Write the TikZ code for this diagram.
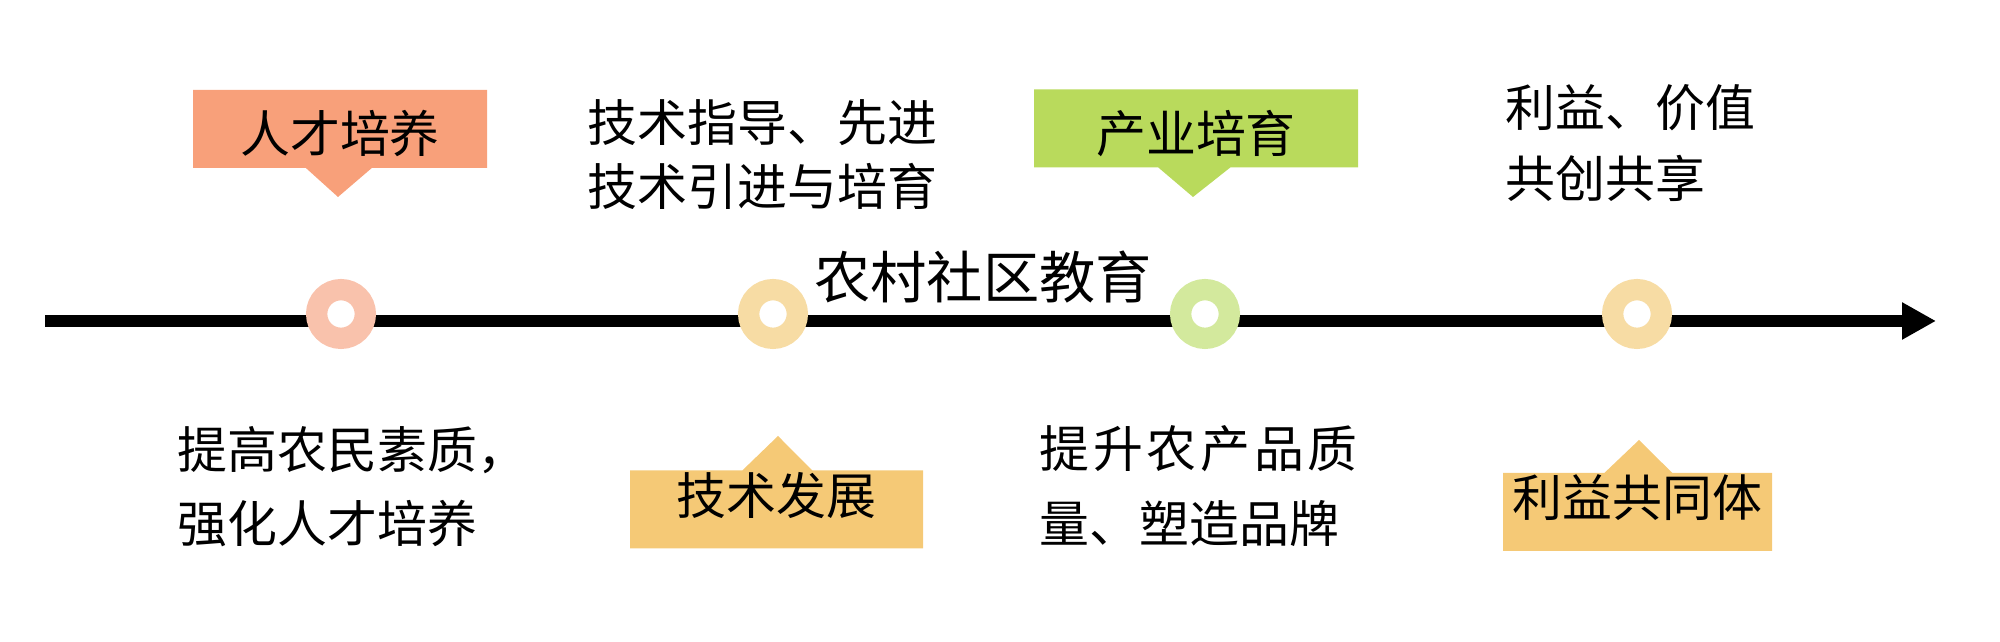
\documentclass[tikz,border=0pt]{standalone}
\usepackage{fontspec}
\setmainfont{Noto Sans CJK SC}
\usepackage{xcolor}
\usetikzlibrary{arrows.meta,shapes.callouts}
\definecolor{salmon}{HTML}{F8A07A}
\definecolor{softsalmon}{HTML}{F9C2AC}
\definecolor{sand}{HTML}{F5C976}
\definecolor{softsand}{HTML}{F7DCA4}
\definecolor{lime}{HTML}{B9DA5C}
\definecolor{softlime}{HTML}{D3E99D}
\tikzset{
  axisline/.style={line width=1.2mm, draw=black, -{Triangle[length=3.4mm, width=3.5mm]}},
  ring/.style={circle, draw=#1, line width=2.13mm, fill=white, minimum size=4.87mm, inner sep=0pt},
  tagbox/.style={rectangle callout, fill=#1, inner sep=0pt, minimum height=7.8mm, font=\fontsize{14.2pt}{17pt}\selectfont},
  tagup/.style={tagbox=#1, callout pointer width=6.6mm, text height=5mm, text depth=0.2mm},
  tagdown/.style={tagbox=#1, callout pointer width=7mm, text height=3.5mm, text depth=2.5mm},
  notetext/.style={anchor=west, align=left, inner sep=0pt},
}

\begin{document}
\begin{tikzpicture}
  \useasboundingbox (0,0) rectangle (20,6.42);
  % time axis
  \coordinate (start) at (0.45,3.21);
  \coordinate (end) at (19.36,3.21);
  \draw[axisline] (start) -- (end);
  \node[font=\fontsize{16pt}{18pt}\selectfont] (title) at (9.83,3.645) {农村社区教育};
  \foreach \i/\c in {1/softsalmon, 2/softsand, 3/softlime, 4/softsand}{
    \node[ring=\c] (ring\i) at ({3.41+4.32*(\i-1)},3.28) {};
  }
  % callouts
  \node[tagup=salmon, minimum width=2.94cm, callout absolute pointer={(3.38,4.45)}] (talent) at (3.40,5.13) {人才培养};
  \node[tagup=lime, minimum width=3.24cm, callout pointer width=7.2mm, callout absolute pointer={(11.93,4.45)}] (industry) at (11.96,5.135) {产业培育};
  \node[tagdown=sand, minimum width=2.93cm, callout absolute pointer={(7.78,2.06)}] (techdev) at (7.765,1.325) {技术发展};
  \node[tagdown=sand, minimum width=2.69cm, callout pointer width=6.8mm, callout absolute pointer={(16.39,2.02)}] (benefit) at (16.375,1.30) {利益共同体};
  % notes
  \node[notetext, font=\fontsize{14.2pt}{18.2pt}\selectfont] (guide) at (5.87,4.87) {技术指导、先进\\技术引进与培育};
  \node[notetext, font=\fontsize{14.2pt}{20.2pt}\selectfont] (share) at (15.05,4.985) {利益、价值\\共创共享};
  \node[notetext, font=\fontsize{14.2pt}{21pt}\selectfont] (quality) at (1.77,1.555) {提高农民素质，\\强化人才培养};
  \node[notetext, font=\fontsize{14.2pt}{21.3pt}\selectfont] (brand) at (10.39,1.56) {\makebox[3.18cm][s]{提\hfill 升\hfill 农\hfill 产\hfill 品\hfill 质}\\量、塑造品牌};
\end{tikzpicture}
\end{document}
